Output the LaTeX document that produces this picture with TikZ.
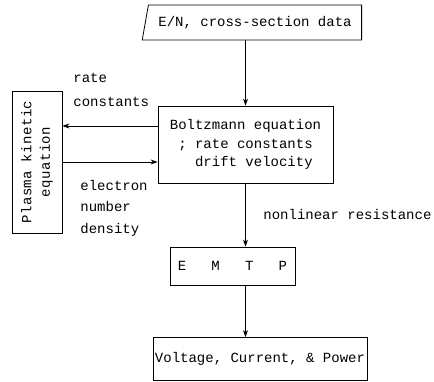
\documentclass[tikz,border=0pt]{standalone}
\usepackage{fontspec}
\setmonofont{Liberation Mono}
\usetikzlibrary{arrows.meta,positioning,shapes.geometric}

\begin{document}
\begin{tikzpicture}[
    x=1pt, y=-1pt,
    node font=\ttfamily\fontsize{14}{16.5}\selectfont,
    >={Stealth[length=7pt, width=5pt]},
    line width=0.8pt,
    block/.style={draw, inner sep=2pt, align=center},
    flow/.style={->},
    tag/.style={anchor=west, align=left, inner sep=0pt},
]
\useasboundingbox (0,0) rectangle (434,382);

% === Blocks ===
\node[block, trapezium, trapezium left angle=71, trapezium right angle=90,
      trapezium stretches=true, minimum width=220pt, minimum height=35pt]
      (data) at (255,22.5) {E/N, cross-section data};

\node[block, minimum width=175pt, minimum height=77pt] (boltz) at (245.5,144.5)
    {Boltzmann equation\\[2pt] ; rate constants\\[2pt] \ \ drift velocity};

\node[block, minimum width=50pt, minimum height=142pt] (plasma) at (37,162) {};
\node[rotate=90, align=center, inner sep=0pt] (plasmatext) at (plasma.center)
    {\addfontfeature{LetterSpace=3}Plasma kinetic\\[2pt]\addfontfeature{LetterSpace=3}equation};

\node[block, minimum width=125pt, minimum height=38pt] (emtp) at (232.5,266)
    {E~~~M~~~T~~~P};

\node[block, minimum width=210pt, minimum height=43pt] (out) at (260,359)
    {Voltage, Current, \& Power};

% === Connectors ===
\draw[flow] (boltz.north |- data.south) -- (boltz.north);
\draw[flow] ([yshift=36pt]plasma.east -| boltz.west) -- ([yshift=36pt]plasma.east);
\draw[flow] (plasma.east) -- (plasma.east -| boltz.west);
\draw[flow] (boltz.south) -- (boltz.south |- emtp.north);
\draw[flow] (boltz.south |- emtp.south) -- (boltz.south |- out.north);

% === Labels ===
\node[tag] (ratelbl) at (73,90) {rate\\[8pt]constants};
\node[tag] (elelbl) at (80,208) {electron\\[5pt]number\\[5pt]density};
\node[tag] (reslbl) at (263,214) {nonlinear resistance};

\end{tikzpicture}
\end{document}
